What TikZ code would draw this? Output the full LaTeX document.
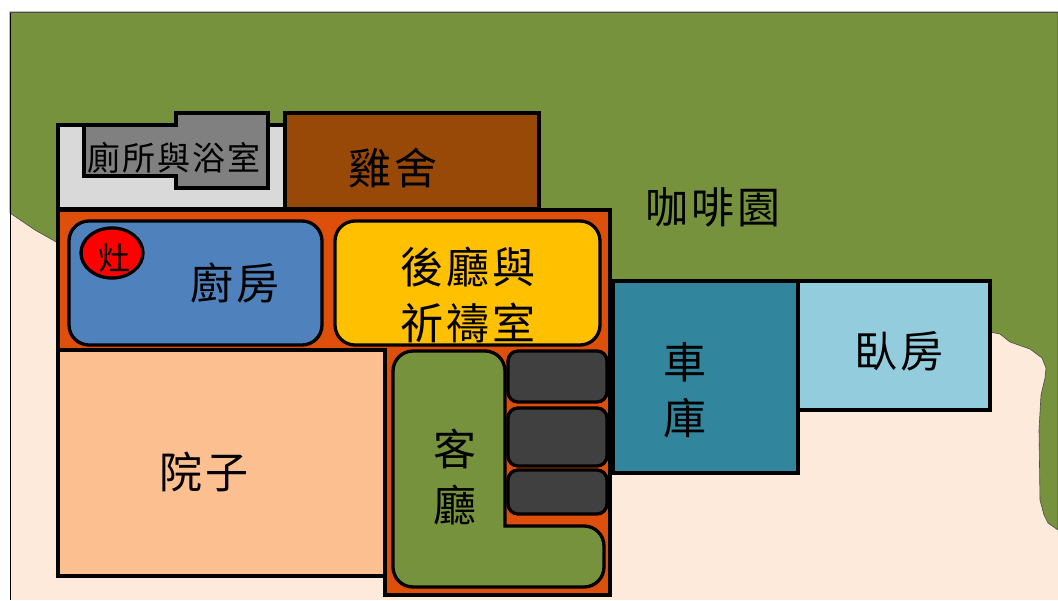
\documentclass[tikz,border=0pt]{standalone}
\usepackage{xcolor}
\usepackage{fontspec}
\usepackage{tikz}

\newfontfamily\cjk[LetterSpace=7]{Noto Sans CJK TC}
\newfontfamily\cjksmall[LetterSpace=6]{Noto Sans CJK TC}

\definecolor{grove}{HTML}{76923C}
\definecolor{ground}{HTML}{FDEADA}
\definecolor{wall}{HTML}{DD4F0B}

\begin{document}
\begin{tikzpicture}[x=1pt, y=-1pt,
    room/.style={draw=black, line width=3.3pt, line join=miter},
    soft/.style={room, rounded corners=20pt},
    sofa/.style={room, rounded corners=10pt, fill=black!75},
    biglabel/.style={inner sep=0pt, align=center, font=\cjk\fontsize{43}{56}\selectfont},
]
    \useasboundingbox (0,0) rectangle (1058,600);
    \fill[white] (0,0) rectangle (1058,600);

    % land and coffee grove
    \fill[ground] (10,12) rectangle (1058,600);
    \draw[draw=black!70, fill=grove, line width=0.6pt] (10,213) -- (10,12) -- (1058,12) -- (1058,530)
        -- (1048,523) -- (1044,515) -- (1040,500) -- (1039,430) -- (1041,395) -- (1045,378)
        -- (1046,368) -- (1042,358) -- (1030,349) -- (1010,342) -- (1000,334) -- (990,332)
        -- (990,281) -- (613,281) -- (613,350) -- (58,350) -- (58,243) -- (35,230) -- cycle;
    \draw[black, line width=1pt] (10,12) -- (10,600);
    \draw[black!70, line width=1pt] (10,12) -- (1058,12);

    % back rooms
    \draw[room, fill=black!15] (58,125) rectangle (285,209);
    \draw[room, fill={rgb,255:red,152;green,72;blue,7}] (285,113) rectangle (539,209);
    \draw[room, fill=black!50] (84,125) -- (176,125) -- (176,113) -- (268,113) -- (268,188)
        -- (176,188) -- (176,176) -- (84,176) -- cycle;

    % main house
    \draw[room, fill=wall] (58,210) -- (610,210) -- (610,595) -- (385,595) -- (385,350) -- (58,350) -- cycle;
    \draw[soft, fill={rgb,255:red,79;green,129;blue,189}] (69,221) rectangle (322,345);
    \draw[soft, fill={rgb,255:red,255;green,192;blue,0}] (335,221) rectangle (600,345);
    \draw[room, fill=red] (112,253) ellipse (31pt and 25pt);
    \draw[room, fill={rgb,255:red,252;green,192;blue,144}] (58,350) rectangle (385,576);
    \draw[soft, fill=grove] (393,470) -- (393,351) -- (505,351) -- (505,440) [sharp corners] -- (505,526)
        -- (550,526) [rounded corners=20pt] -- (604,526) -- (604,587) -- (393,587) -- cycle;
    \draw[sofa] (508,351) rectangle (607,402);
    \draw[sofa] (508,408) rectangle (607,466);
    \draw[sofa] (508,470) rectangle (607,514);

    % side rooms
    \draw[room, fill={rgb,255:red,49;green,133;blue,156}] (613,281) rectangle (798,473);
    \draw[room, fill={rgb,255:red,147;green,205;blue,221}] (798,281) rectangle (990,410);

    \node[inner sep=0pt, font=\cjksmall\fontsize{33}{33}\selectfont] (toilet) at (174,158) {廁所與浴室};
    \node[biglabel] (coop) at (393,168) {雞舍};
    \node[biglabel] (grovename) at (713,207) {咖啡園};
    \node[biglabel] (kitchen) at (235,283) {廚房};
    \node[inner sep=0pt, font=\cjk\fontsize{32}{32}\selectfont] (stove) at (114,258) {灶};
    \node[biglabel] (hall) at (468,295) {後廳與\\祈禱室};
    \node[biglabel] (yard) at (204,472) {院子};
    \node[biglabel] (living) at (455,477) {客\\廳};
    \node[biglabel] (garage) at (685,390) {車\\庫};
    \node[biglabel] (bedroom) at (899,351) {臥房};
\end{tikzpicture}
\end{document}
